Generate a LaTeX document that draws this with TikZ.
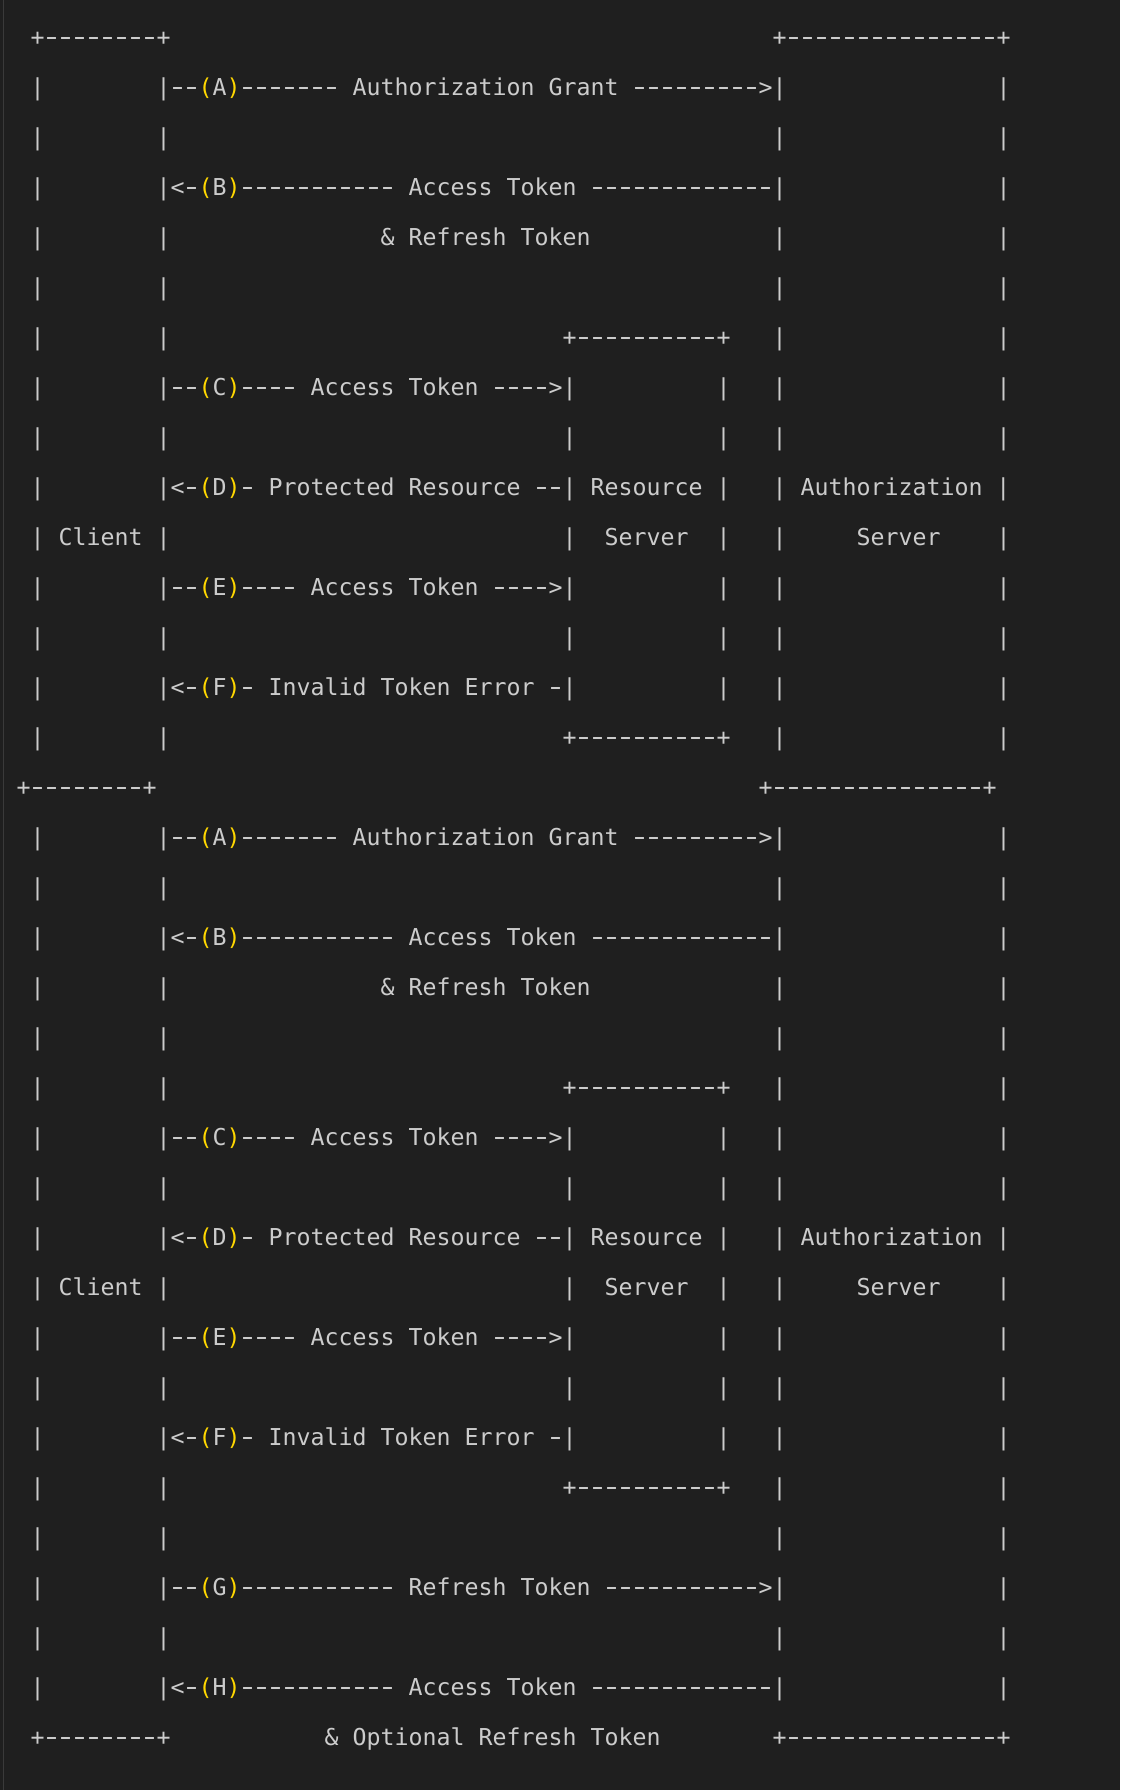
\documentclass[tikz,border=0pt]{standalone}
\usepackage{fontspec}
\setmonofont{DejaVu Sans Mono}
\definecolor{bg}{HTML}{1F1F1F}
\definecolor{fg}{HTML}{CCCCCC}
\definecolor{gold}{HTML}{FFD700}
\definecolor{edgeline}{HTML}{3A3A3A}
\newlength\chw
\setlength\chw{13.9976pt}
\newcount\dcnt
\newcommand\spx[1]{\hspace*{#1\chw}}
\newcommand\onedash{\makebox[\chw][c]{\scalebox{1.5}[1.1]{-}}}
\newcommand\dd[1]{\dcnt=#1\relax\loop\ifnum\dcnt>0 \onedash\advance\dcnt by -1\relax\repeat}
\newcommand\lab[1]{{\color{gold}(}#1{\color{gold})}}
\newcommand\cli{|\spx{8}|}
\newcommand\aut{|\spx{15}|}
\newcommand\cbox{+\dd{8}+}
\newcommand\abox{+\dd{15}+}
\newcommand\rTop{\spx{2}\cbox\spx{43}\abox}
\newcommand\rTopS{\spx{1}\cbox\spx{43}\abox}
\newcommand\rBlank{\spx{2}\cli\spx{43}\aut}
\newcommand\rA{\spx{2}\cli\dd{2}\lab{A}\dd{7}\spx{1}Authorization\spx{1}Grant\spx{1}\dd{9}>\aut}
\newcommand\rB{\spx{2}\cli<\dd{1}\lab{B}\dd{11}\spx{1}Access\spx{1}Token\spx{1}\dd{13}\aut}
\newcommand\rRef{\spx{2}\cli\spx{15}\&\spx{1}Refresh\spx{1}Token\spx{13}\aut}
\newcommand\rRSt{\spx{2}\cli\spx{28}+\dd{10}+\spx{3}\aut}
\newcommand\rC{\spx{2}\cli\dd{2}\lab{C}\dd{4}\spx{1}Access\spx{1}Token\spx{1}\dd{4}>|\spx{10}|\spx{3}\aut}
\newcommand\rRSb{\spx{2}\cli\spx{28}|\spx{10}|\spx{3}\aut}
\newcommand\rD{\spx{2}\cli<\dd{1}\lab{D}\dd{1}\spx{1}Protected\spx{1}Resource\spx{1}\dd{2}|\spx{1}Resource\spx{1}|\spx{3}|\spx{1}Authorization\spx{1}|}
\newcommand\rCl{\spx{2}|\spx{1}Client\spx{1}|\spx{28}|\spx{2}Server\spx{2}|\spx{3}|\spx{5}Server\spx{4}|}
\newcommand\rE{\spx{2}\cli\dd{2}\lab{E}\dd{4}\spx{1}Access\spx{1}Token\spx{1}\dd{4}>|\spx{10}|\spx{3}\aut}
\newcommand\rF{\spx{2}\cli<\dd{1}\lab{F}\dd{1}\spx{1}Invalid\spx{1}Token\spx{1}Error\spx{1}\dd{1}|\spx{10}|\spx{3}\aut}
\newcommand\rG{\spx{2}\cli\dd{2}\lab{G}\dd{11}\spx{1}Refresh\spx{1}Token\spx{1}\dd{11}>\aut}
\newcommand\rH{\spx{2}\cli<\dd{1}\lab{H}\dd{11}\spx{1}Access\spx{1}Token\spx{1}\dd{13}\aut}
\newcommand\rBot{\spx{2}\cbox\spx{11}\&\spx{1}Optional\spx{1}Refresh\spx{1}Token\spx{8}\abox}
\tikzset{
  txt/.style={anchor=base west, inner sep=0pt, outer sep=0pt, text=fg,
    font=\ttfamily\fontsize{23.25pt}{50pt}\selectfont}
}
\begin{document}
\begin{tikzpicture}[x=1pt,y=1pt]
\useasboundingbox (0,0) rectangle (1120,-1790);
\fill[bg] (0,0) rectangle (1120,-1790);
\draw[edgeline, line width=1.5pt] (3.3,0) -- (3.3,-1790);
\foreach \t [count=\k] in {\rTop,\rA,\rBlank,\rB,\rRef,\rBlank,\rRSt,\rC,\rRSb,\rD,\rCl,\rE,\rRSb,\rF,\rRSt,
  \rTopS,\rA,\rBlank,\rB,\rRef,\rBlank,\rRSt,\rC,\rRSb,\rD,\rCl,\rE,\rRSb,\rF,\rRSt,\rBlank,\rG,\rBlank,\rH,\rBot}
{
  \node[txt] (r\k) at (2.7,{-45.3-50*(\k-1)}) {\t};
}
\end{tikzpicture}
\end{document}
